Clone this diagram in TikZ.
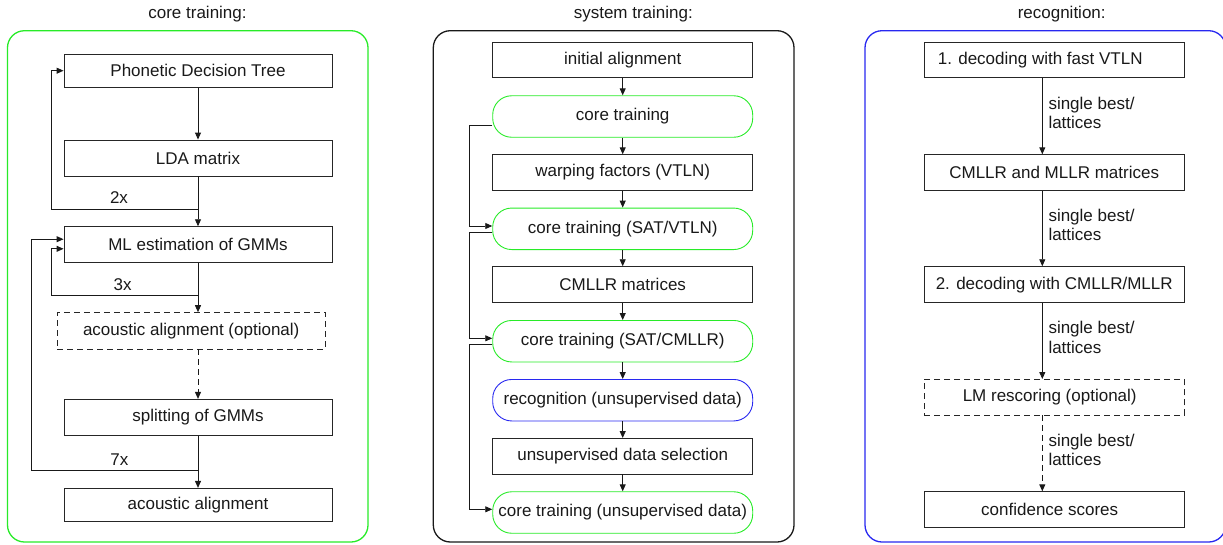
\documentclass[tikz,border=0pt]{standalone}
\usepackage{fontspec}
\setmainfont{Liberation Sans}
\usetikzlibrary{arrows.meta,calc}
\definecolor{cgreen}{RGB}{40,235,40}
\definecolor{cblue}{RGB}{40,40,240}
\begin{document}
\begin{tikzpicture}[x=1pt,y=-1pt,
  font=\fontsize{17}{19.5}\selectfont,
  every node/.style={text=black!90},
  box/.style={draw=black!85, line width=0.9pt, inner sep=0pt, minimum width=260pt, minimum height=35.5pt},
  dbox/.style={box, dash pattern=on 6pt off 4pt},
  rbox/.style={box, rounded corners=19pt, minimum height=41.5pt},
  gbox/.style={rbox, draw=cgreen},
  bbox/.style={rbox, draw=cblue},
  panel/.style={line width=1.3pt, rounded corners=17pt},
  conn/.style={draw=black!90, line width=0.9pt},
  arr/.style={conn, -{Triangle[length=7pt,width=6pt]}},
  darr/.style={arr, dash pattern=on 6pt off 4pt},
  title/.style={inner sep=0pt},
  lbl/.style={inner sep=0pt, anchor=west, align=left}]
\useasboundingbox (0,0) rectangle (1223,544);
\clip (0,0) rectangle (1223,544);

% ---------- panels ----------
\draw[panel, draw=cgreen] (7.5,30.7) rectangle (368,542);
\draw[panel, draw=black!90] (433.3,30.7) rectangle (794,542);
\draw[panel, draw=cblue] (865,30.7) rectangle (1225.7,542);
\node[title] (t1) at (197.5,14) {core training:};
\node[title] (t2) at (633.3,14) {system training:};
\node[title] (t3) at (1061.7,14) {recognition:};

% ---------- core training ----------
\node[box, minimum width=268pt, minimum height=33.5pt] (pdt) at (198,70.7) {Phonetic Decision Tree};
\node[box, minimum width=268pt, minimum height=36pt] (lda) at (198,158) {LDA matrix};
\node[box, minimum width=268pt, minimum height=35.6pt] (ml) at (198,244.5) {ML estimation of GMMs};
\node[dbox, minimum width=268pt, minimum height=36.3pt] (aao) at (191.2,330.8) {acoustic alignment (optional)};
\node[box, minimum width=268pt, minimum height=35.7pt] (spl) at (198,417.2) {splitting of GMMs};
\node[box, minimum width=268pt, minimum height=32.7pt] (aa) at (198,504.7) {acoustic alignment};

\coordinate (j2) at (198,209.3);
\coordinate (j3) at (198,295);
\coordinate (j7) at (198,470.7);
\coordinate (xin) at (51.7,0);
\coordinate (xout) at (31.7,0);

\draw[arr] (pdt.south) -- (lda.north);
\draw[conn] (lda.south) -- (j2);
\draw[arr] (j2) -- (ml.north);
\draw[arr] (j2) -| (xin |- pdt.west) -- (pdt.west);
\node[inner sep=0pt] (n2x) at (119,198) {2x};

\draw[conn] (ml.south) -- (j3);
\draw[arr] (j3) -- (j3 |- aao.north);
\draw[arr] (j3) -| (xin |- {$(ml.west)+(0,4.3)$}) -- ($(ml.west)+(0,4.3)$);
\node[inner sep=0pt] (n3x) at (122.7,285) {3x};

\draw[darr] (j3 |- aao.south) -- (spl.north);

\draw[conn] (spl.south) -- (j7);
\draw[arr] (j7) -- (aa.north);
\draw[arr] (j7) -| (xout |- {$(ml.west)+(0,-5.3)$}) -- ($(ml.west)+(0,-5.3)$);
\node[inner sep=0pt] (n7x) at (119.3,460) {7x};

% ---------- system training ----------
\node[box] (ia) at (622.7,60) {initial alignment};
\node[gbox] (ct1) at (622.7,116.5) {core training};
\node[box] (wf) at (622.7,172.5) {warping factors (VTLN)};
\node[gbox] (ct2) at (622.7,228.8) {core training (SAT/VTLN)};
\node[box, minimum height=36pt] (cm) at (622.7,284.7) {CMLLR matrices};
\node[gbox] (ct3) at (622.7,341.2) {core training (SAT/CMLLR)};
\node[bbox] (rec) at (622.7,400.2) {recognition (unsupervised data)};
\node[box] (uds) at (622.7,456.2) {unsupervised data selection};
\node[gbox] (ct4) at (622.7,512.5) {core training (unsupervised data)};

\draw[arr] (ia) -- (ct1);
\draw[arr] (ct1) -- (wf);
\draw[arr] (wf) -- (ct2);
\draw[arr] (ct2) -- (cm);
\draw[arr] (cm) -- (ct3);
\draw[arr] (ct3) -- (rec);
\draw[arr] (rec) -- (uds);
\draw[arr] (uds) -- (ct4);

\coordinate (xs) at (469.3,0);
\draw[arr] ($(ct1.west)+(0,8.5)$) -| (xs |- {$(ct2.west)+(0,-2.8)$}) -- ($(ct2.west)+(0,-2.8)$);
\draw[arr] ($(ct2.west)+(0,3.9)$) -| (xs |- {$(ct3.west)+(0,-2.9)$}) -- ($(ct3.west)+(0,-2.9)$);
\draw[arr] ($(ct3.west)+(0,2.8)$) -| (xs |- {$(ct4.west)+(0,-3.2)$}) -- ($(ct4.west)+(0,-3.2)$);

% ---------- recognition ----------
\node[box, minimum width=260.3pt] (d1) at (1054.2,60) {1. decoding with fast VTLN\hspace*{28pt}};
\node[box, minimum width=260.3pt] (cmm) at (1054.2,172.5) {CMLLR and MLLR matrices};
\node[box, minimum width=260.3pt, minimum height=36pt] (d2) at (1054.2,284.7) {2. decoding with CMLLR/MLLR};
\node[dbox, minimum width=260.3pt] (lm) at (1054.2,397.2) {LM rescoring (optional)\hspace*{9pt}};
\node[box, minimum width=260.3pt] (cs) at (1054.2,509.5) {confidence scores\hspace*{9pt}};

\coordinate (xa) at (1042.3,0);
\draw[arr] (xa |- d1.south) -- (xa |- cmm.north);
\draw[arr] (xa |- cmm.south) -- (xa |- d2.north);
\draw[arr] (xa |- d2.south) -- (xa |- lm.north);
\draw[darr] (xa |- lm.south) -- (xa |- cs.north);

\node[lbl] (s1) at (1048.3,113) {single best/\\lattices};
\node[lbl] (s2) at (1048.3,224.7) {single best/\\lattices};
\node[lbl] (s3) at (1048.3,337.3) {single best/\\lattices};
\node[lbl] (s4) at (1048.3,449.7) {single best/\\lattices};
\end{tikzpicture}
\end{document}
